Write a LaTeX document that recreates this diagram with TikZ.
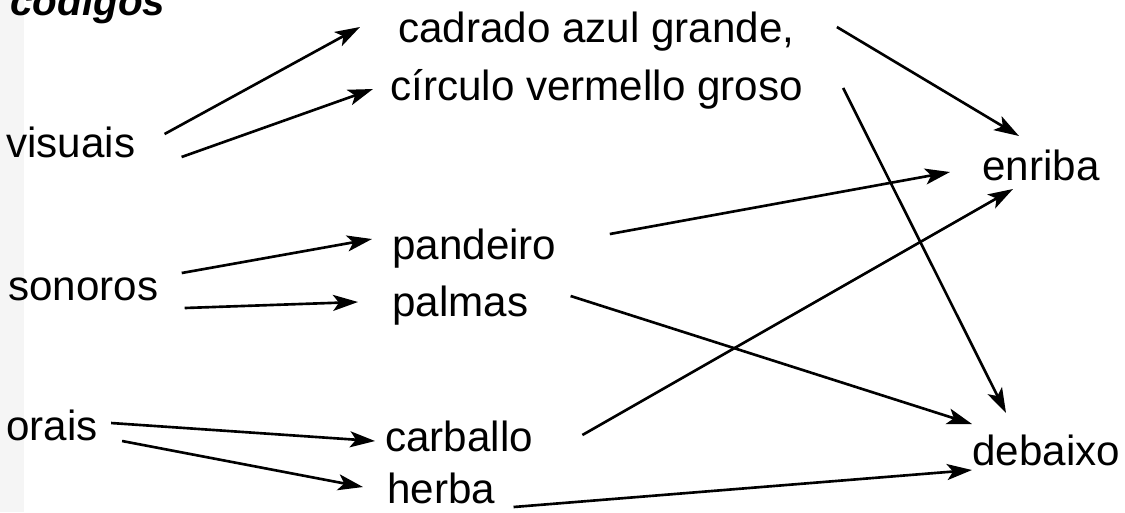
\documentclass[tikz,border=0pt]{standalone}
\usepackage{fontspec}
\setmainfont{Liberation Sans}
\usepackage{tikz}
\usetikzlibrary{arrows.meta, calc}

\begin{document}
\begin{tikzpicture}[
  x=0.02cm, y=-0.02cm,
  word/.style={anchor=base west, inner sep=0pt, font=\fontsize{24}{28}\selectfont},
  head/.style={word, font=\fontsize{23}{28}\selectfont\bfseries\itshape},
  op/.style={-{Stealth[length=5mm, width=3.2mm, inset=1.2mm]}, line width=1.5pt}
]
  \useasboundingbox (0,0) rectangle (1125,512);
  \fill[black!4] (0,0) rectangle (24,512);

  \node[head] (cod) at (10,15) {códigos};
  % left column
  \node[word] (vis) at (6,157) {visuais};
  \node[word] (son) at (8,300) {sonoros};
  \node[word] (ora) at (6,440) {orais};
  % middle column
  \node[word] (cad) at (398,42) {cadrado azul grande,};
  \node[word] (cir) at (390,100) {círculo vermello groso};
  \node[word] (pan) at (392,259) {pandeiro};
  \node[word] (pal) at (392,316) {palmas};
  \node[word] (car) at (385,451) {carballo};
  \node[word] (her) at (387,503) {herba};
  % right column
  \node[word] (enr) at (982,180) {enriba};
  \node[word] (deb) at (972,465) {debaixo};

  \draw[op] ($(vis.base east)+(29,-23)$) -- ($(cad.base west)+(-38,-15)$);
  \draw[op] ($(vis.base east)+(46,0)$) -- ($(cir.base west)+(-17,-11)$);
  \draw[op] ($(son.base east)+(23,-27)$) -- ($(pan.base west)+(-20,-20)$);
  \draw[op] ($(son.base east)+(26,8)$) -- ($(pal.base west)+(-34,-14)$);
  \draw[op] ($(ora.base east)+(13,-17)$) -- ($(car.base west)+(-10,-10)$);
  \draw[op] ($(ora.base east)+(24,1)$) -- ($(her.base west)+(-24,-16)$);

  \draw[op] ($(cad.base east)+(42,-15)$) -- ($(enr.base west)+(37,-44)$);
  \draw[op] ($(cir.base east)+(40,-12)$) -- ($(deb.base west)+(34,-52)$);
  \draw[op] ($(pan.base east)+(53,-25)$) -- ($(enr.base west)+(-32,-8)$);
  \draw[op] ($(pal.base east)+(42,-20)$) -- ($(deb.base west)+(0,-41)$);
  \draw[op] ($(car.base east)+(49,-16)$) -- ($(enr.base west)+(31,9)$);
  \draw[op] ($(her.base east)+(18,4)$) -- ($(deb.base west)+(0,5)$);
\end{tikzpicture}
\end{document}
